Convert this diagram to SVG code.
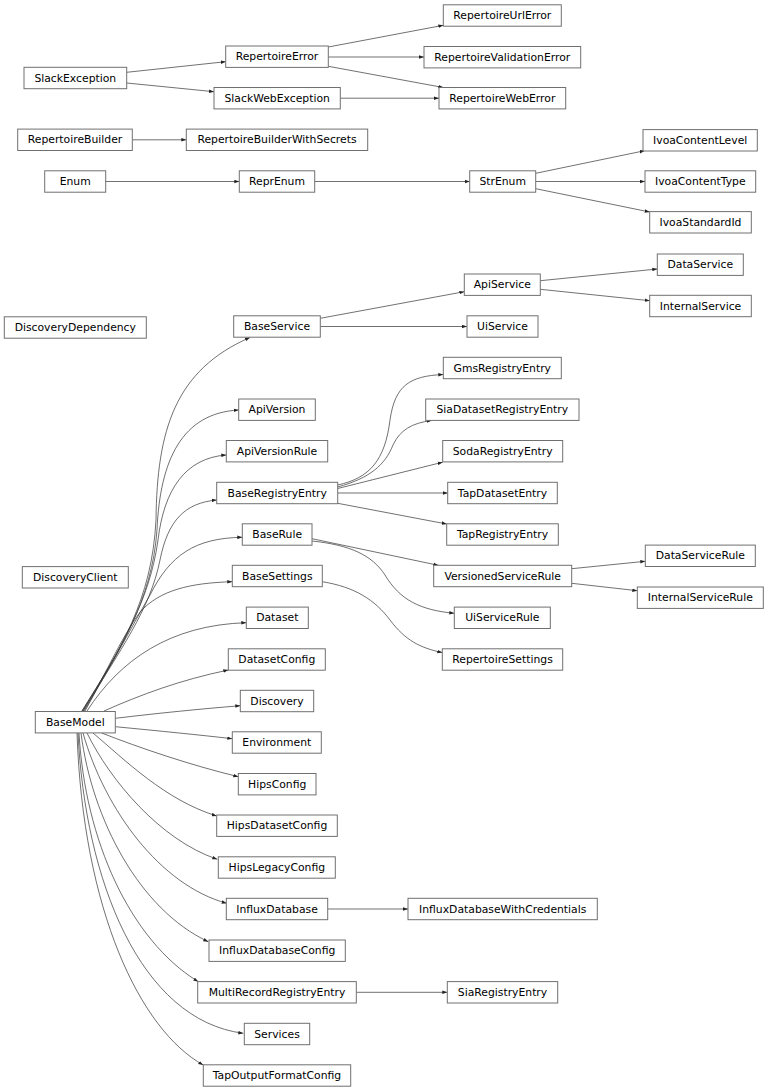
<svg xmlns="http://www.w3.org/2000/svg" width="768" height="1091" viewBox="0 0 768 1091">
<style>
.n rect{fill:#fff;stroke:#707070;stroke-width:1}
.n text{font-family:"DejaVu Sans","Liberation Sans",sans-serif;font-size:10.8px;fill:#000;text-anchor:middle}
#edges path{fill:none;stroke:#333;stroke-width:0.7;marker-end:url(#arr)}
</style>
<defs>
<marker id="arr" markerUnits="userSpaceOnUse" markerWidth="6" markerHeight="4" refX="5" refY="2" orient="auto">
<path d="M0,0.25 L5,2 L0,3.75 z" fill="#222"/>
</marker>
</defs>
<rect width="768" height="1091" fill="#fff"/>
<g id="edges">
<path d="M126.7,72.3 L225.7,61.7"/>
<path d="M126.7,83 L214,91.7"/>
<path d="M328.3,47 L443.3,25.3"/>
<path d="M328.3,57 L424,57"/>
<path d="M328.3,66.3 L443.3,87.5"/>
<path d="M340.3,98.2 L439,98.2"/>
<path d="M132.3,139.8 L186.3,139.8"/>
<path d="M105.7,181.5 L239.3,181.5"/>
<path d="M314.7,181.5 L469.7,181.5"/>
<path d="M535.7,173.3 L644.7,150.7"/>
<path d="M535.7,181.5 L645,181.5"/>
<path d="M535.7,188.7 L649.7,212"/>
<path d="M320.3,318.3 L464.3,291.7"/>
<path d="M320.3,326.5 L467,326.5"/>
<path d="M540.3,280.7 L657.3,269"/>
<path d="M540.3,289.3 L649.7,300.7"/>
<path d="M337.7,485 C370,478 385,460 390,420 C395,385 410,376 443.3,374.5"/>
<path d="M337.7,487 C370,478 385,465 393,445 C400,430 412,423 431.7,420.5"/>
<path d="M337.7,488.5 L442.7,462.2"/>
<path d="M337.7,493 L447.7,493"/>
<path d="M337.7,503.3 L446.7,524"/>
<path d="M312,538.7 L438.3,565.3"/>
<path d="M312,541 C350,545 372,555 385,575 C400,600 420,610 454.3,613.3"/>
<path d="M322.3,581.7 C355,587 375,600 390,620 C405,640 420,648 442.3,652.5"/>
<path d="M571.7,568.7 L645.3,561.3"/>
<path d="M571.7,583.3 L637.3,590.7"/>
<path d="M327.7,909 L408,909"/>
<path d="M356.3,992.3 L447.3,992.3"/>
<path d="M82,711 C120,650 152,600 156,520 C157,430 175,370 250,337.5"/>
<path d="M82,711 C120,650 152,600 157,530 C160,460 182,413 238.7,410"/>
<path d="M83,711 C120,650 150,600 158,540 C164,490 185,458 226.3,455"/>
<path d="M83,711 C120,650 150,610 160,560 C168,520 185,503 216.7,500"/>
<path d="M84,711 C110,668 130,630 150,595 C170,555 195,538 242.3,537.3"/>
<path d="M85,711 C105,675 120,640 140,612 C160,590 190,583 232.3,581.7"/>
<path d="M87,711 C120,660 170,625 246.3,622.7"/>
<path d="M104,711 C140,695 180,680 228.3,670"/>
<path d="M115.3,718.3 C160,713 200,709 240.3,705.7"/>
<path d="M115.3,726.7 C160,731 200,735 232.3,738.7"/>
<path d="M101.7,733 C140,748 190,765 238.3,776.7"/>
<path d="M93,733 C125,760 165,800 216.7,816"/>
<path d="M87,733 C110,780 160,840 217.3,859.3"/>
<path d="M83,733 C105,810 160,885 226.7,903.3"/>
<path d="M81,733 C92,820 140,910 208.3,941.7"/>
<path d="M79,733 C85,840 130,940 198.3,981.7"/>
<path d="M78,733 C85,880 140,1020 243.3,1033.3"/>
<path d="M77,733 C83,910 140,1030 203.3,1065"/>
</g>
<g id="SlackException" class="n"><rect x="24" y="67.3" width="102.7" height="21.4"/><text x="75.3" y="81.6">SlackException</text></g>
<g id="RepertoireError" class="n"><rect x="225.7" y="46" width="102.6" height="21.4"/><text x="277" y="60.3">RepertoireError</text></g>
<g id="SlackWebException" class="n"><rect x="214" y="87.5" width="126.3" height="21.4"/><text x="277.2" y="101.8">SlackWebException</text></g>
<g id="RepertoireUrlError" class="n"><rect x="443.3" y="4.8" width="118" height="21.4"/><text x="502.3" y="19.1">RepertoireUrlError</text></g>
<g id="RepertoireValidationError" class="n"><rect x="424" y="46.5" width="156.7" height="21.4"/><text x="502.3" y="60.8">RepertoireValidationError</text></g>
<g id="RepertoireWebError" class="n"><rect x="439" y="87.5" width="126.7" height="21.4"/><text x="502.3" y="101.8">RepertoireWebError</text></g>
<g id="RepertoireBuilder" class="n"><rect x="17.7" y="129.1" width="114.6" height="21.4"/><text x="75" y="143.4">RepertoireBuilder</text></g>
<g id="RepertoireBuilderWithSecrets" class="n"><rect x="186.3" y="129.1" width="181.4" height="21.4"/><text x="277" y="143.4">RepertoireBuilderWithSecrets</text></g>
<g id="Enum" class="n"><rect x="44.7" y="170.8" width="61" height="21.4"/><text x="75.2" y="185.1">Enum</text></g>
<g id="ReprEnum" class="n"><rect x="239.3" y="170.8" width="75.4" height="21.4"/><text x="277" y="185.1">ReprEnum</text></g>
<g id="StrEnum" class="n"><rect x="469.7" y="170.8" width="66" height="21.4"/><text x="502.7" y="185.1">StrEnum</text></g>
<g id="IvoaContentLevel" class="n"><rect x="643" y="129.6" width="114.3" height="21.4"/><text x="700.2" y="143.9">IvoaContentLevel</text></g>
<g id="IvoaContentType" class="n"><rect x="645" y="170.8" width="110.7" height="21.4"/><text x="700.3" y="185.1">IvoaContentType</text></g>
<g id="IvoaStandardId" class="n"><rect x="649.7" y="211.6" width="101.6" height="21.4"/><text x="700.5" y="225.9">IvoaStandardId</text></g>
<g id="DiscoveryDependency" class="n"><rect x="4.3" y="316.8" width="142" height="21.4"/><text x="75.3" y="331.1">DiscoveryDependency</text></g>
<g id="BaseService" class="n"><rect x="233.7" y="315.8" width="86.6" height="21.4"/><text x="277" y="330.1">BaseService</text></g>
<g id="ApiService" class="n"><rect x="464.3" y="274" width="76" height="21.4"/><text x="502.3" y="288.3">ApiService</text></g>
<g id="UiService" class="n"><rect x="467" y="315.8" width="71" height="21.4"/><text x="502.5" y="330.1">UiService</text></g>
<g id="DataService" class="n"><rect x="657.3" y="254" width="86" height="21.4"/><text x="700.3" y="268.3">DataService</text></g>
<g id="InternalService" class="n"><rect x="649.7" y="295.3" width="101.6" height="21.4"/><text x="700.5" y="309.6">InternalService</text></g>
<g id="ApiVersion" class="n"><rect x="238.7" y="399" width="76.6" height="21.4"/><text x="277" y="413.3">ApiVersion</text></g>
<g id="ApiVersionRule" class="n"><rect x="226.3" y="440.5" width="101.4" height="21.4"/><text x="277" y="454.8">ApiVersionRule</text></g>
<g id="BaseRegistryEntry" class="n"><rect x="216.7" y="482.3" width="121" height="21.4"/><text x="277.2" y="496.6">BaseRegistryEntry</text></g>
<g id="GmsRegistryEntry" class="n"><rect x="443.3" y="357.3" width="118" height="21.4"/><text x="502.3" y="371.6">GmsRegistryEntry</text></g>
<g id="SiaDatasetRegistryEntry" class="n"><rect x="425.7" y="399" width="153.3" height="21.4"/><text x="502.3" y="413.3">SiaDatasetRegistryEntry</text></g>
<g id="SodaRegistryEntry" class="n"><rect x="442.7" y="440.5" width="120" height="21.4"/><text x="502.7" y="454.8">SodaRegistryEntry</text></g>
<g id="TapDatasetEntry" class="n"><rect x="447.7" y="482.3" width="109.6" height="21.4"/><text x="502.5" y="496.6">TapDatasetEntry</text></g>
<g id="TapRegistryEntry" class="n"><rect x="446.7" y="523.8" width="111.6" height="21.4"/><text x="502.5" y="538.1">TapRegistryEntry</text></g>
<g id="BaseRule" class="n"><rect x="242.3" y="523.8" width="69.7" height="21.4"/><text x="277.2" y="538.1">BaseRule</text></g>
<g id="DiscoveryClient" class="n"><rect x="22.3" y="566.6" width="106" height="21.4"/><text x="75.3" y="580.9">DiscoveryClient</text></g>
<g id="BaseSettings" class="n"><rect x="232.3" y="565.3" width="90" height="21.4"/><text x="277.3" y="579.6">BaseSettings</text></g>
<g id="VersionedServiceRule" class="n"><rect x="433.7" y="565.3" width="138" height="21.4"/><text x="502.7" y="579.6">VersionedServiceRule</text></g>
<g id="DataServiceRule" class="n"><rect x="645.3" y="545.1" width="110" height="21.4"/><text x="700.3" y="559.4">DataServiceRule</text></g>
<g id="InternalServiceRule" class="n"><rect x="637.3" y="587" width="126" height="21.4"/><text x="700.3" y="601.3">InternalServiceRule</text></g>
<g id="UiServiceRule" class="n"><rect x="454.3" y="607.1" width="96" height="21.4"/><text x="502.3" y="621.4">UiServiceRule</text></g>
<g id="Dataset" class="n"><rect x="246.3" y="607.1" width="62" height="21.4"/><text x="277.3" y="621.4">Dataset</text></g>
<g id="DatasetConfig" class="n"><rect x="228.3" y="648.8" width="97" height="21.4"/><text x="276.8" y="663.1">DatasetConfig</text></g>
<g id="RepertoireSettings" class="n"><rect x="442.3" y="648.8" width="120.4" height="21.4"/><text x="502.5" y="663.1">RepertoireSettings</text></g>
<g id="Discovery" class="n"><rect x="240.3" y="690.3" width="73.4" height="21.4"/><text x="277" y="704.6">Discovery</text></g>
<g id="BaseModel" class="n"><rect x="35.3" y="711.5" width="80" height="21.4"/><text x="75.3" y="725.8">BaseModel</text></g>
<g id="Environment" class="n"><rect x="232.3" y="731.8" width="89" height="21.4"/><text x="276.8" y="746.1">Environment</text></g>
<g id="HipsConfig" class="n"><rect x="238.3" y="773.5" width="77.7" height="21.4"/><text x="277.2" y="787.8">HipsConfig</text></g>
<g id="HipsDatasetConfig" class="n"><rect x="216.7" y="815" width="120.6" height="21.4"/><text x="277" y="829.3">HipsDatasetConfig</text></g>
<g id="HipsLegacyConfig" class="n"><rect x="218.3" y="856.8" width="117" height="21.4"/><text x="276.8" y="871.1">HipsLegacyConfig</text></g>
<g id="InfluxDatabase" class="n"><rect x="226.3" y="898.3" width="101.4" height="21.4"/><text x="277" y="912.6">InfluxDatabase</text></g>
<g id="InfluxDatabaseWithCredentials" class="n"><rect x="408" y="898.3" width="189.3" height="21.4"/><text x="502.7" y="912.6">InfluxDatabaseWithCredentials</text></g>
<g id="InfluxDatabaseConfig" class="n"><rect x="209" y="940" width="136.3" height="21.4"/><text x="277.2" y="954.3">InfluxDatabaseConfig</text></g>
<g id="MultiRecordRegistryEntry" class="n"><rect x="197.7" y="981.6" width="158.6" height="21.4"/><text x="277" y="995.9">MultiRecordRegistryEntry</text></g>
<g id="SiaRegistryEntry" class="n"><rect x="447.3" y="981.6" width="110.4" height="21.4"/><text x="502.5" y="995.9">SiaRegistryEntry</text></g>
<g id="Services" class="n"><rect x="244.3" y="1023.3" width="65.4" height="21.4"/><text x="277" y="1037.6">Services</text></g>
<g id="TapOutputFormatConfig" class="n"><rect x="203.3" y="1064.8" width="147.4" height="21.4"/><text x="277" y="1079.1">TapOutputFormatConfig</text></g>
</svg>
